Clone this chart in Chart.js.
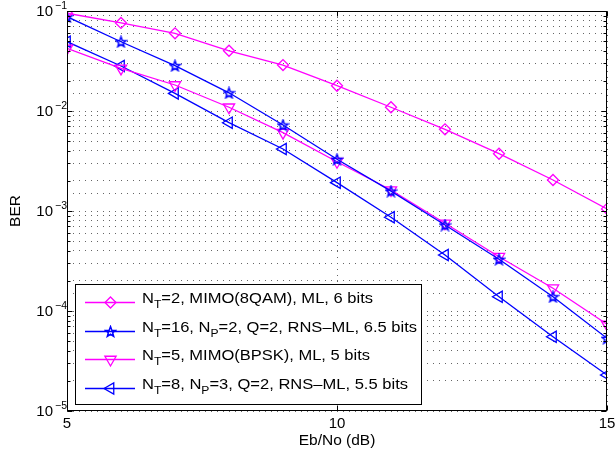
<!DOCTYPE html>
<html>
<head>
<meta charset="utf-8">
<script src="https://cdn.jsdelivr.net/npm/chart.js@4.4.1/dist/chart.umd.min.js"></script>
<style>
  html, body { margin: 0; padding: 0; background: #fff; }
  #wrap { width: 615px; height: 457px; }
</style>
</head>
<body>
<div id="wrap"><canvas id="c" width="615" height="457"></canvas></div>
<script>
// Eb/No (dB) values and BER curves
const ebno = [5, 6, 7, 8, 9, 10, 11, 12, 13, 14, 15]
const berMimo8qam = [0.095, 0.076, 0.0598, 0.040, 0.0288, 0.0179, 0.0109, 0.00656, 0.00374, 0.00204, 0.00105]
const berRns16 = [0.0877, 0.0493, 0.0284, 0.0152, 0.00724, 0.00329, 0.00158, 0.000724, 0.000329, 0.000139, 0.0000533]
const berMimoBpsk = [0.0423, 0.0267, 0.0182, 0.0109, 0.00607, 0.00311, 0.00162, 0.000753, 0.000349, 0.000169, 0.0000736]
const berRns8 = [0.0493, 0.0282, 0.0150, 0.00764, 0.00417, 0.00192, 0.000865, 0.000363, 0.000139, 0.0000553, 0.0000229]

const seriesLabels = [
  "N_T=2, MIMO(8QAM), ML, 6 bits",
  "N_T=16, N_P=2, Q=2, RNS\u2013ML, 6.5 bits",
  "N_T=5, MIMO(BPSK), ML, 5 bits",
  "N_T=8, N_P=3, Q=2, RNS\u2013ML, 5.5 bits",
]
const xTickLabels = [5, 10, 15]
const yTickExponents = [-1, -2, -3, -4, -5]

const MAGENTA = "#ff00ff"
const BLUE = "#0000ff"
const FONT = "'Liberation Sans', Arial, Helvetica, sans-serif"

// MATLAB-like pentagram marker as an image
function pentagram(color) {
  const c = document.createElement("canvas")
  c.width = 13
  c.height = 13
  const g = c.getContext("2d")
  const R = 5.4, r = R * 0.42
  g.beginPath()
  for (let i = 0; i < 10; i++) {
    const a = -Math.PI / 2 + i * Math.PI / 5
    const rr = i % 2 ? r : R
    const px = 6.5 + rr * Math.cos(a), py = 7 + rr * Math.sin(a)
    i ? g.lineTo(px, py) : g.moveTo(px, py)
  }
  g.closePath()
  g.strokeStyle = color
  g.lineWidth = 1.5
  g.stroke()
  return c
}
const starImg = pentagram(BLUE)

const markers = [
  { style: "rectRot", radius: 5.5, rotation: 0, color: MAGENTA },
  { style: starImg, radius: 6, rotation: 0, color: BLUE },
  { style: "triangle", radius: 6.5, rotation: 180, color: MAGENTA },
  { style: "triangle", radius: 6.5, rotation: 270, color: BLUE },
]
const seriesData = [berMimo8qam, berRns16, berMimoBpsk, berRns8]

function drawMarker(ctx, m, x, y) {
  ctx.save()
  ctx.strokeStyle = m.color
  ctx.lineWidth = 1.3
  if (typeof m.style !== "string") {
    ctx.drawImage(m.style, x - m.style.width / 2, y - m.style.height / 2)
  } else {
    ctx.translate(x, y)
    ctx.rotate((m.rotation * Math.PI) / 180)
    ctx.beginPath()
    if (m.style === "rectRot") {
      ctx.moveTo(0, -m.radius)
      ctx.lineTo(m.radius, 0)
      ctx.lineTo(0, m.radius)
      ctx.lineTo(-m.radius, 0)
    } else {
      for (let i = 0; i < 3; i++) {
        const a = -Math.PI / 2 + (i * 2 * Math.PI) / 3
        const px = m.radius * Math.cos(a), py = m.radius * Math.sin(a)
        i ? ctx.lineTo(px, py) : ctx.moveTo(px, py)
      }
    }
    ctx.closePath()
    ctx.stroke()
  }
  ctx.restore()
}

// text with "_X" subscripts, stretched to a given width (MATLAB Helvetica runs wider)
function drawRich(ctx, text, x, y, width) {
  const parts = text.split(/_(\w)/)
  const fontOf = (i) => (i % 2 ? "11px " : "15px ") + FONT
  let natural = 0
  parts.forEach((p, i) => { ctx.font = fontOf(i); natural += ctx.measureText(p).width })
  ctx.save()
  ctx.translate(x, y)
  ctx.scale(width ? width / natural : 1, 1)
  let cx = 0
  parts.forEach((p, i) => {
    ctx.font = fontOf(i)
    ctx.fillText(p, cx, i % 2 ? 5 : 0)
    cx += ctx.measureText(p).width
  })
  ctx.restore()
}

const decorPlugin = {
  id: "matlabDecor",
  afterDraw(chart) {
    const { ctx, chartArea: a, scales } = chart
    const L = Math.round(a.left) + 0.5, R = Math.round(a.right) - 0.5
    const T = Math.round(a.top) + 0.5, B = Math.round(a.bottom) - 0.5
    ctx.save()
    ctx.strokeStyle = "#000"
    ctx.lineWidth = 1
    ctx.strokeRect(L, T, R - L, B - T)

    // inner ticks on y
    ctx.beginPath()
    for (let d = -5; d <= -1; d++) {
      for (let m = 1; m <= 9; m++) {
        const v = m * Math.pow(10, d)
        if (v > 0.1 + 1e-12) break
        const py = Math.round(scales.y.getPixelForValue(v)) + 0.5
        const len = m === 1 ? 5 : 3
        ctx.moveTo(L, py); ctx.lineTo(L + len, py)
        ctx.moveTo(R, py); ctx.lineTo(R - len, py)
      }
    }
    xTickLabels.forEach((t) => {
      const px = Math.round(scales.x.getPixelForValue(t)) + 0.5
      ctx.moveTo(px, B); ctx.lineTo(px, B - 5)
      ctx.moveTo(px, T); ctx.lineTo(px, T + 5)
    })
    ctx.stroke()

    // tick labels
    ctx.fillStyle = "#000"
    ctx.textBaseline = "middle"
    yTickExponents.forEach((e) => {
      const py = scales.y.getPixelForValue(Math.pow(10, e))
      ctx.font = "15px " + FONT
      ctx.textAlign = "right"
      ctx.fillText("10", a.left - 14, py + 1)
      ctx.font = "10.5px " + FONT
      ctx.textAlign = "left"
      ctx.fillText("\u2212" + Math.abs(e), a.left - 12, py - 5)
    })
    ctx.font = "15px " + FONT
    ctx.textAlign = "center"
    xTickLabels.forEach((t) => {
      ctx.fillText(String(t), scales.x.getPixelForValue(t), a.bottom + 13)
    })
    ctx.font = "15.5px " + FONT
    ctx.fillText("Eb/No (dB)", (a.left + a.right) / 2, a.bottom + 30)
    ctx.save()
    ctx.translate(16, (a.top + a.bottom) / 2)
    ctx.rotate(-Math.PI / 2)
    ctx.fillText("BER", 0, 0)
    ctx.restore()

    // legend
    const bx = 75.5, by = 284.5, bw = 346, bh = 120
    const textWidths = [231, 275, 228, 266]
    ctx.fillStyle = "#fff"
    ctx.fillRect(bx, by, bw, bh)
    ctx.strokeStyle = "#000"
    ctx.strokeRect(bx, by, bw, bh)
    seriesLabels.forEach((lab, i) => {
      const ey = Math.round(302 + i * 28.7)
      const m = markers[i]
      ctx.strokeStyle = m.color
      ctx.lineWidth = 1.3
      ctx.beginPath()
      ctx.moveTo(85, ey + 0.5)
      ctx.lineTo(135, ey + 0.5)
      ctx.stroke()
      drawMarker(ctx, m, 110.5, ey + 0.5)
      ctx.fillStyle = "#000"
      ctx.textAlign = "left"
      ctx.textBaseline = "alphabetic"
      drawRich(ctx, lab, 142, ey + 1, textWidths[i])
    })
    ctx.restore()
  },
}

new Chart(document.getElementById("c"), {
  type: "line",
  data: {
    labels: ebno,
    datasets: seriesData.map((d, i) => ({
      label: seriesLabels[i],
      data: ebno.map((x, j) => ({ x, y: d[j] })),
      borderColor: markers[i].color,
      backgroundColor: "rgba(0,0,0,0)",
      borderWidth: 1.3,
      pointStyle: markers[i].style,
      pointRadius: markers[i].radius,
      pointRotation: markers[i].rotation,
      pointBorderColor: markers[i].color,
      pointBorderWidth: 1.3,
      pointBackgroundColor: "rgba(0,0,0,0)",
      tension: 0,
    })),
  },
  options: {
    responsive: false,
    animation: false,
    devicePixelRatio: 1,
    layout: { padding: { left: 67, top: 11, right: 8, bottom: 46 } },
    plugins: { legend: { display: false }, tooltip: { enabled: false } },
    scales: {
      x: {
        type: "linear",
        min: 5,
        max: 15,
        ticks: { display: false, stepSize: 5 },
        grid: { color: "#666", lineWidth: 1, drawTicks: false },
        border: { display: false, dash: [1, 5] },
        afterFit: (s) => { s.height = 0 },
      },
      y: {
        type: "logarithmic",
        min: 1e-5,
        max: 1e-1,
        ticks: { display: false },
        grid: { color: "#666", lineWidth: 1, drawTicks: false },
        border: { display: false, dash: [1, 5] },
        afterFit: (s) => { s.width = 0 },
      },
    },
  },
  plugins: [decorPlugin],
})
</script>
</body>
</html>
